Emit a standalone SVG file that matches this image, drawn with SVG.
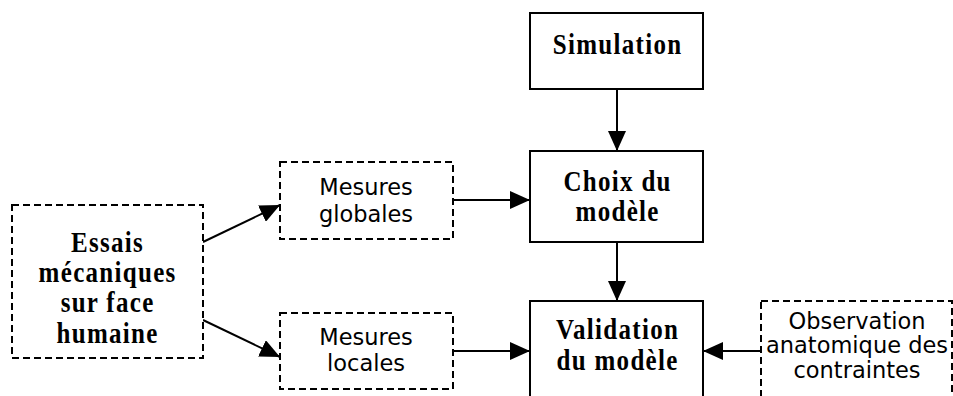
<svg xmlns="http://www.w3.org/2000/svg" width="953" height="396" viewBox="0 0 953 396">
<style>
.solid{fill:#fff;stroke:#000;stroke-width:2}
.dash{fill:#fff;stroke:#000;stroke-width:2;stroke-dasharray:7 4}
.serif{font-family:"Liberation Serif","Times New Roman",serif;font-weight:bold;font-size:25px;letter-spacing:1.3px;fill:#000;text-anchor:middle}
.sans{font-family:"DejaVu Sans",sans-serif;font-size:22.5px;fill:#000;text-anchor:middle}
.conn{stroke:#000;stroke-width:2;fill:none;marker-end:url(#arr)}
</style>
<defs>
<marker id="arr" markerUnits="userSpaceOnUse" markerWidth="20" markerHeight="18" refX="20" refY="9" orient="auto" viewBox="0 0 20 18">
<path d="M0,0 L20,9 L0,18 z" fill="#000"/>
</marker>
</defs>
<g id="connectors">
<line class="conn" x1="617" y1="89" x2="617" y2="151"/>
<line class="conn" x1="617" y1="242" x2="617" y2="301"/>
<line class="conn" x1="453" y1="200" x2="530" y2="200"/>
<line class="conn" x1="453" y1="351" x2="530" y2="351"/>
<line class="conn" x1="761" y1="351" x2="703" y2="351"/>
<line class="conn" x1="203" y1="242" x2="280" y2="205"/>
<line class="conn" x1="203" y1="320" x2="280" y2="357"/>
</g>
<g id="simulation">
<rect class="solid" x="530" y="13" width="173" height="76"/>
<text class="serif" transform="translate(617.6 54) scale(1 1.15)">Simulation</text>
</g>
<g id="choix">
<rect class="solid" x="530" y="151" width="173" height="91"/>
<text class="serif" transform="translate(617.6 191) scale(1 1.15)">Choix du</text>
<text class="serif" transform="translate(617.6 221) scale(1 1.15)">modèle</text>
</g>
<g id="validation">
<rect class="solid" x="530" y="301" width="173" height="110"/>
<text class="serif" transform="translate(617.6 339) scale(1 1.15)">Validation</text>
<text class="serif" transform="translate(617.6 370) scale(1 1.15)">du modèle</text>
</g>
<g id="essais">
<rect class="dash" x="12" y="205" width="191" height="153"/>
<text class="serif" transform="translate(107.6 252) scale(1 1.15)">Essais</text>
<text class="serif" transform="translate(107.6 282) scale(1 1.15)">mécaniques</text>
<text class="serif" transform="translate(107.6 312) scale(1 1.15)">sur face</text>
<text class="serif" transform="translate(107.6 343) scale(1 1.15)">humaine</text>
</g>
<g id="mesures-globales">
<rect class="dash" x="280" y="162" width="173" height="77"/>
<text class="sans" x="366" y="195">Mesures</text>
<text class="sans" x="366" y="222">globales</text>
</g>
<g id="mesures-locales">
<rect class="dash" x="280" y="313" width="173" height="76"/>
<text class="sans" x="366" y="345">Mesures</text>
<text class="sans" x="366" y="371">locales</text>
</g>
<g id="observation">
<rect class="dash" x="761" y="301" width="191" height="110"/>
<text class="sans" x="857" y="329">Observation</text>
<text class="sans" x="857" y="353">anatomique des</text>
<text class="sans" x="857" y="378">contraintes</text>
</g>
</svg>
